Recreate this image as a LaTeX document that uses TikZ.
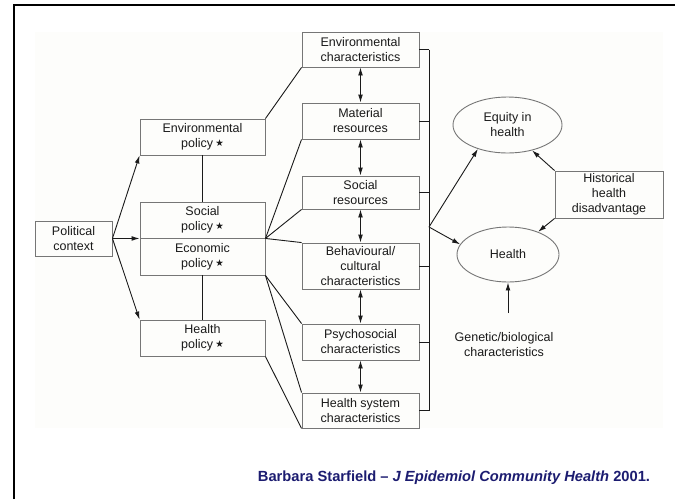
\documentclass[tikz,border=0pt]{standalone}
\usepackage{fontspec}
\setmainfont{Liberation Sans}
\newfontfamily\symfont{DejaVu Sans}
\usetikzlibrary{arrows.meta,shapes.geometric}

\definecolor{boxgray}{HTML}{767676}
\definecolor{inkdark}{HTML}{1A1A1A}
\definecolor{citenavy}{HTML}{1C1C70}
\definecolor{panel}{HTML}{FDFDFB}

\newcommand{\pstar}{\,{\symfont\fontsize{9.5}{9.5}\selectfont\raisebox{1pt}{★}}}

\tikzset{
  box/.style={draw=boxgray, line width=0.9pt, rectangle, inner sep=0pt,
    align=center, text=inkdark, font=\fontsize{12.5}{15}\selectfont},
  oval/.style={draw=boxgray, line width=0.9pt, ellipse, inner sep=0pt,
    align=center, text=inkdark, font=\fontsize{12.5}{15}\selectfont},
  link/.style={draw=inkdark, line width=0.9pt},
  arr/.style={link, -{Latex[length=8pt,width=4.8pt]}},
  dblarr/.style={link, {Latex[length=8pt,width=4.8pt]}-{Latex[length=8pt,width=4.8pt]}},
  label text/.style={align=center, text=inkdark, font=\fontsize{12.5}{15}\selectfont},
}

\begin{document}
\begin{tikzpicture}[x=1pt,y=-1pt]
\useasboundingbox (0,0) rectangle (675,499);
% light panel behind the diagram
\fill[panel] (35,32) rectangle (663,428);
% outer frame (top and left edges)
\draw[black, line width=2.2pt] (14,499) -- (14,5) -- (675,5);

% left column: political context and policies
\node[box, minimum width=77pt, minimum height=35pt] (pol) at (73.5,238.5) {Political\\context};
\node[box, minimum width=125pt, minimum height=36pt] (envp) at (202.5,137) {Environmental\\policy\pstar};
\node[box, minimum width=125pt, minimum height=36pt] (socp) at (202.5,220) {Social\\policy\pstar};
\node[box, minimum width=125pt, minimum height=37pt] (ecop) at (202.5,256.5) {Economic\\policy\pstar};
\node[box, minimum width=125pt, minimum height=36pt] (hlthp) at (202.5,338) {Health\\policy\pstar};

% middle column: characteristics and resources
\node[box, minimum width=117pt, minimum height=35pt] (envc) at (360.5,49.5) {Environmental\\characteristics};
\node[box, minimum width=117pt, minimum height=36pt] (mat) at (360.5,121) {Material\\resources};
\node[box, minimum width=117pt, minimum height=33pt] (socr) at (360.5,192.5) {Social\\resources};
\node[box, minimum width=117pt, minimum height=46pt] (beh) at (360.5,266) {Behavioural/\\cultural\\characteristics};
\node[box, minimum width=117pt, minimum height=36pt] (psy) at (360.5,342) {Psychosocial\\characteristics};
\node[box, minimum width=117pt, minimum height=35pt] (hsys) at (360.5,410.5) {Health system\\characteristics};

% right side: outcomes
\node[oval, minimum width=109pt, minimum height=56pt] (eq) at (507.5,125) {Equity in\\health};
\node[oval, minimum width=102pt, minimum height=55pt] (health) at (508,254.5) {Health};
\node[box, minimum width=108pt, minimum height=47pt] (hist) at (609,194.5) {Historical\\health\\disadvantage};
\node[label text] (gen) at (504,344.5) {Genetic/biological\\characteristics};
\coordinate (gtop) at (508,313);

% citation
\node[text=citenavy, font=\fontsize{14.7}{17}\selectfont\bfseries] (cite) at (454,478)
  {Barbara Starfield – \textit{J Epidemiol Community Health} 2001.};

% political context to the policies
\draw[arr] (pol.east) -- (envp.south west);
\draw[arr] (pol.east) -- (socp.south west);
\draw[arr] (pol.east) -- (hlthp.north west);
\draw[link] (envp.south) -- (socp.north);
\draw[link] (ecop.south) -- (hlthp.north);

% policies to characteristics
\draw[link] (envp.north east) -- (envc.south west);
\draw[link] (socp.south east) -- (mat.south west);
\draw[link] (socp.south east) -- (socr.south west);
\draw[link] (socp.south east) -- (beh.north west);
\draw[link] (ecop.south east) -- (psy.north west);
\draw[link] (ecop.south east) -- (hsys.north west);
\draw[link] (hlthp.south east) -- (hsys.south west);

% two-way links within the middle column
\draw[dblarr] (envc.south) -- (mat.north);
\draw[dblarr] (mat.south) -- (socr.north);
\draw[dblarr] (socr.south) -- (beh.north);
\draw[dblarr] (beh.south) -- (psy.north);
\draw[dblarr] (psy.south) -- (hsys.north);

% collecting bracket on the right of the middle column
\coordinate (bx) at (429,0);
\coordinate (jn) at (429,227);
\foreach \n in {envc,mat,socr,beh,psy,hsys}
  \draw[link] (\n.east) -- (\n.east -| bx);
\draw[link] (envc.east -| bx) -- (hsys.east -| bx);

% bracket to the outcomes
\draw[arr] (jn) -- (eq.219);
\draw[arr] (jn) -- (health.168);
\draw[arr] (hist.north west) -- (eq.314);
\draw[arr] (hist.south west) -- (health.37);
\draw[arr] (gtop) -- (health.south);
\end{tikzpicture}
\end{document}
